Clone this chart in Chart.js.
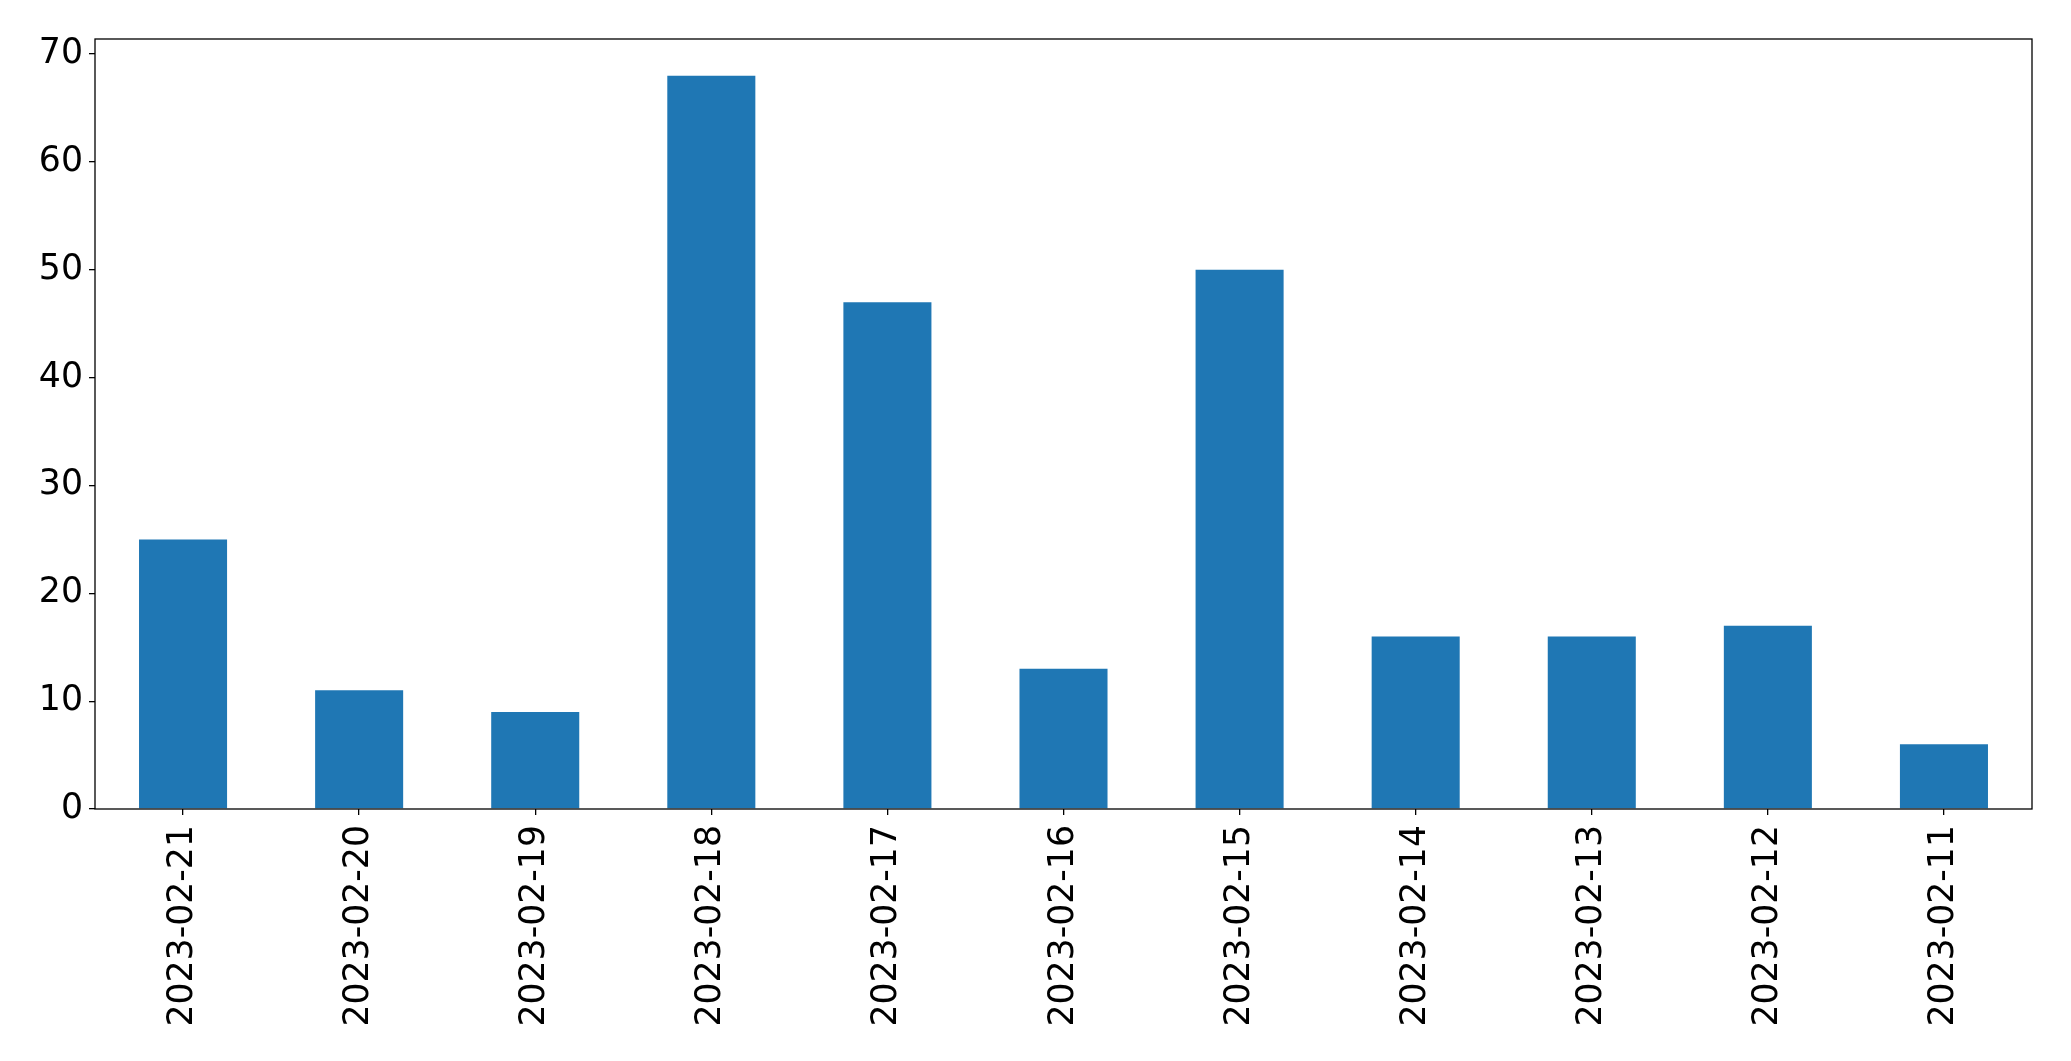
<!DOCTYPE html>
<html>
<head>
<meta charset="utf-8">
<script src="https://cdn.jsdelivr.net/npm/chart.js@4/dist/chart.umd.min.js"></script>
<style>
	html, body { margin: 0; padding: 0; background: #fff; }
	#wrap { width: 2071px; height: 1061px; }
</style>
</head>
<body>
<div id="wrap"><canvas id="chart" width="2071" height="1061"></canvas></div>
<script>
// dates as they appear on the x axis, newest first
const dates = ["2023-02-21", "2023-02-20", "2023-02-19", "2023-02-18", "2023-02-17", "2023-02-16",
	"2023-02-15", "2023-02-14", "2023-02-13", "2023-02-12", "2023-02-11"];
const counts = [25, 11, 9, 68, 47, 13, 50, 16, 16, 17, 6];
const yMin = 0;
const yMax = 71.4;
const yStep = 10;

const tickFont = { family: "'DejaVu Sans', sans-serif", size: 34.7 };

//draws the black frame around the plot area
const framePlugin = {
	id: "frame",
	afterDraw(chart) {
		const a = chart.chartArea;
		const ctx = chart.ctx;
		ctx.save();
		ctx.strokeStyle = "#000";
		ctx.lineWidth = 1.3;
		ctx.strokeRect(a.left, a.top, a.right - a.left, a.bottom - a.top);
		ctx.restore();
	}
};

new Chart(document.getElementById("chart"), {
	type: "bar",
	data: {
		labels: dates,
		datasets: [{
			data: counts,
			backgroundColor: "#1f77b4",
			borderWidth: 0,
			barPercentage: 0.5,
			categoryPercentage: 1.0,
		}],
	},
	options: {
		responsive: false,
		animation: false,
		layout: { padding: { top: 39, right: 39, left: 0, bottom: 0 } },
		plugins: {
			legend: { display: false },
			tooltip: { enabled: false },
		},
		scales: {
			x: {
				offset: true,
				grid: { display: true, drawOnChartArea: false, offset: false, tickLength: 6, color: "#000", lineWidth: 1.3 },
				border: { display: false },
				ticks: { color: "#000", font: tickFont, maxRotation: 90, minRotation: 90, padding: 10, autoSkip: false },
				afterFit(scale) { scale.height = 252; },
			},
			y: {
				min: yMin,
				max: yMax,
				grid: { display: true, drawOnChartArea: false, tickLength: 6, color: "#000", lineWidth: 1.3 },
				border: { display: false },
				ticks: { color: "#000", font: tickFont, stepSize: yStep, includeBounds: false, padding: 6 },
				afterFit(scale) { scale.width = 95; },
			},
		},
	},
	plugins: [framePlugin],
});
</script>
</body>
</html>
